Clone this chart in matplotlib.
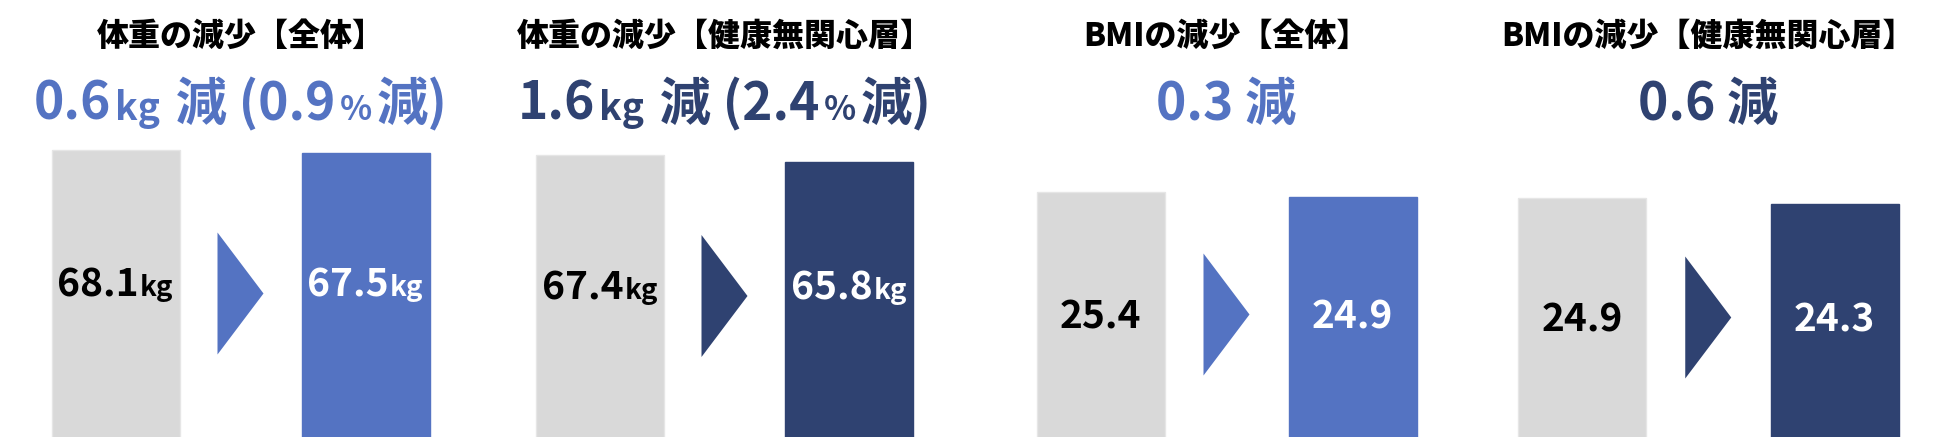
import matplotlib
matplotlib.use("Agg")
import matplotlib.pyplot as plt
from matplotlib.transforms import IdentityTransform

plt.rcParams['font.family'] = ['Noto Sans CJK JP', 'DejaVu Sans']

# ---------------- data ----------------
titles = ["体重の減少【全体】", "体重の減少【健康無関心層】",
          "BMIの減少【全体】", "BMIの減少【健康無関心層】"]
before_vals = [68.1, 67.4, 25.4, 24.9]
after_vals = [67.5, 65.8, 24.9, 24.3]
units = ["kg", "kg", "", ""]
diff_vals = [0.6, 1.6, 0.3, 0.6]
diff_pcts = [0.9, 2.4, None, None]

# ---------------- style / layout ----------------
W, H, DPI = 1945, 437, 100
GRAY = "#D9D9D9"
BLUE = "#5473C2"
NAVY = "#2F4271"
colors = [BLUE, NAVY, BLUE, NAVY]

gray_center_px = [115.5, 600, 1100.5, 1582]   # x of first bar centre
spacing_px = [250, 249, 252, 252.5]             # distance between bar centres
bar_w_px = 128
gray_top_px = [150, 155, 192, 198]              # from top
y_scale = [4.5, 4.5, 10, 10]                    # px per value unit
axes_top_px = 100
label_dy = [3, 3, 14, 14]
arrow_half_w = 23
arrow_half_h = 61

TITLE_Y = 36
SUB_BASE_Y = 120
BIG, SMALL, PCT = 37, 27, 24
LBIG, LSMALL = 28, 20

fig = plt.figure(figsize=(W / DPI, H / DPI), dpi=DPI)
fig.patch.set_facecolor("white")
renderer = fig.canvas.get_renderer()


def runs_text(runs, cx, y_base, color, gap=3):
    texts = []
    for s, size in runs:
        t = fig.text(0, y_base, s, fontsize=size, color=color, fontweight='bold',
                     va='baseline', ha='left', transform=IdentityTransform())
        texts.append(t)
    widths = [t.get_window_extent(renderer).width for t in texts]
    total = sum(widths) + gap * (len(texts) - 1)
    x = cx - total / 2
    for t, w in zip(texts, widths):
        t.set_x(x)
        x += w + gap


for i in range(4):
    u = spacing_px[i] / 2.0          # px per x unit
    left_px = gray_center_px[i] - 0.6 * u
    ax = fig.add_axes([left_px / W, 0, 3.2 * u / W, (H - axes_top_px) / H])
    ax.set_xlim(-0.6, 2.6)
    s = y_scale[i]
    b, a = before_vals[i], after_vals[i]
    ytop = b + (gray_top_px[i] - axes_top_px) / s
    ybot = b - (H - gray_top_px[i]) / s
    ax.set_ylim(ybot, ytop)
    ax.axis('off')
    ax.bar([0, 2], [b, a], width=bar_w_px / u, color=[GRAY, colors[i]],
           edgecolor=["#E6E6E6", colors[i]], linewidth=1)
    mid = (ybot + b) / 2
    ax.fill([1 - arrow_half_w / u, 1 + arrow_half_w / u, 1 - arrow_half_w / u],
            [mid + arrow_half_h / s, mid, mid - arrow_half_h / s],
            color=colors[i], lw=0)

    # bar labels
    for xv, val, tc in [(0, b, "black"), (2, a, "white")]:
        px, py = ax.transData.transform((xv, mid))
        runs = [(f"{val:.1f}", LBIG)]
        if units[i]:
            runs.append((units[i], LSMALL))
        runs_text(runs, px, py - label_dy[i], tc, gap=1)

    # titles
    cx = ax.transData.transform((1, 0))[0]
    fig.text(cx, H - TITLE_Y, titles[i], fontsize=23, fontweight='heavy',
             ha='center', va='center', transform=IdentityTransform(), color="black")

    # subtitle
    if diff_pcts[i] is not None:
        runs = [(f"{diff_vals[i]:.1f}", BIG), ("kg", SMALL),
                (f" 減 ({diff_pcts[i]:.1f}", BIG), ("%", PCT), ("減)", BIG)]
    else:
        runs = [(f"{diff_vals[i]:.1f} 減", BIG)]
    runs_text(runs, cx, H - SUB_BASE_Y, colors[i], gap=4)

fig.savefig("out.png", dpi=DPI, facecolor="white")
